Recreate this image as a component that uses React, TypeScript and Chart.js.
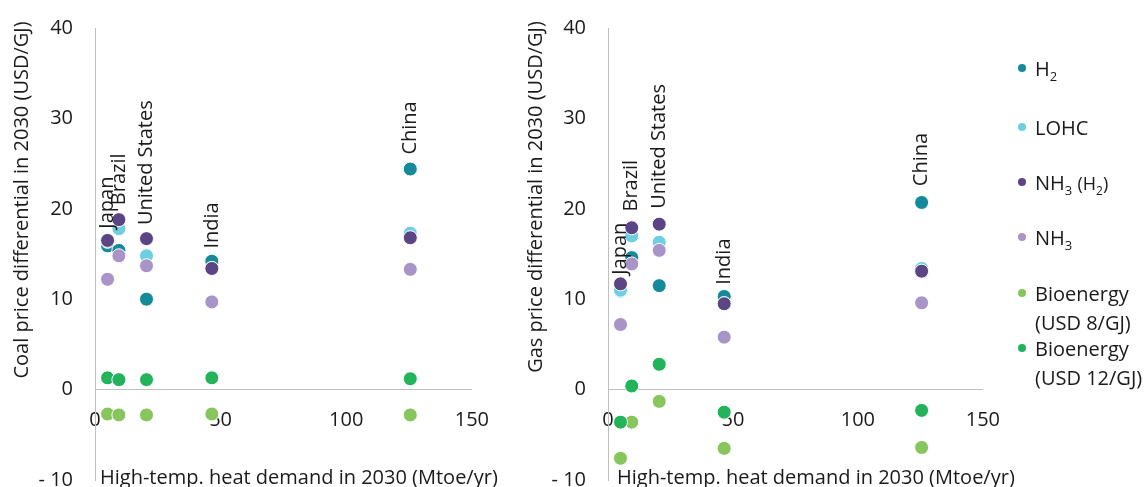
import React, { useEffect, useRef } from "react";
import { Chart, registerables } from "chart.js";
Chart.register(...registerables);

const FONT = "'Open Sans', 'Noto Sans', sans-serif";
const FS = 20;
const TEXT = "#1a1a1a";
const AXIS = "#bfbfbf";
const CANVAS_H = 520;
const CANVAS_TOP = -6;

// ---- data ----
const countries = ["Japan", "Brazil", "United States", "India", "China"];
const heatDemand = [5, 9.5, 20.5, 46.5, 125.5];

const coalH2 = [15.9, 15.4, 10.0, 14.2, 24.4];
const coalLOHC = [16.4, 17.8, 14.8, 13.4, 17.3];
const coalNH3H2 = [16.5, 18.8, 16.7, 13.4, 16.8];
const coalNH3 = [12.2, 14.8, 13.7, 9.7, 13.3];
const coalBio8 = [-2.7, -2.8, -2.8, -2.7, -2.8];
const coalBio12 = [1.3, 1.1, 1.1, 1.3, 1.2];
const coalLabelAt = [17.8, 20.4, 18.2, 15.6, 26.0];

const gasH2 = [10.9, 14.6, 11.5, 10.3, 20.7];
const gasLOHC = [11.0, 17.0, 16.3, 9.5, 13.4];
const gasNH3H2 = [11.7, 17.9, 18.3, 9.5, 13.1];
const gasNH3 = [7.2, 13.9, 15.4, 5.8, 9.6];
const gasBio8 = [-7.6, -3.6, -1.3, -6.5, -6.4];
const gasBio12 = [-3.6, 0.4, 2.8, -2.5, -2.3];
const gasLabelAt = [12.7, 19.7, 20.0, 11.6, 22.5];

const seriesNames = ["H2", "LOHC", "NH3 (H2)", "NH3", "Bioenergy (USD 8/GJ)", "Bioenergy (USD 12/GJ)"];
const seriesColors = ["#148a9b", "#6dcfdf", "#5b4585", "#a894c7", "#86c65c", "#22b35b"];

const xTicks = [0, 50, 100, 150];
const yTicks = [-10, 0, 10, 20, 30, 40];
const xTitle = "High-temp. heat demand in 2030 (Mtoe/yr)";

const annotPlugin = {
  id: "annot",
  afterDatasetsDraw(chart: any, _args: any, opts: any) {
    const { ctx } = chart;
    const x = chart.scales.x;
    const y = chart.scales.y;
    ctx.save();
    ctx.fillStyle = TEXT;
    ctx.font = `${FS}px ${FONT}`;
    countries.forEach((c, i) => {
      const px = x.getPixelForValue(heatDemand[i]);
      const py = y.getPixelForValue(opts.anchors[i]);
      ctx.save();
      ctx.translate(px, py);
      ctx.rotate(-Math.PI / 2);
      ctx.textAlign = "left";
      ctx.textBaseline = "middle";
      ctx.fillText(c, 0, 0);
      ctx.restore();
    });
    // y title
    ctx.save();
    ctx.translate(opts.yTitleX, opts.yTitleY);
    ctx.rotate(-Math.PI / 2);
    ctx.textAlign = "center";
    ctx.textBaseline = "middle";
    ctx.fillText(opts.yTitle, 0, 0);
    ctx.restore();
    // x title
    ctx.textAlign = "left";
    ctx.textBaseline = "alphabetic";
    ctx.fillText(xTitle, opts.xTitleX, opts.xTitleY);
    ctx.restore();
  },
};

type Geom = {
  yAxisWidth: number;
  padRight: number;
  padTop: number;
  padBottom: number;
  yTitleX: number;
  yTitleY: number;
  xTitleX: number;
  xTitleY: number;
};

function ScatterPanel(props: {
  left: number;
  width: number;
  series: number[][];
  anchors: number[];
  yTitle: string;
  geom: Geom;
}) {
  const ref = useRef<HTMLCanvasElement>(null);
  useEffect(() => {
    const g = props.geom;
    const chart = new Chart(ref.current!, {
      type: "scatter",
      data: {
        datasets: props.series.map((vals, si) => ({
          label: seriesNames[si],
          data: vals.map((v, i) => ({ x: heatDemand[i], y: v })),
          backgroundColor: seriesColors[si],
          borderColor: "#ffffff",
          borderWidth: 1,
          pointRadius: 7,
          pointHoverRadius: 7,
          order: props.series.length - si,
        })),
      },
      options: {
        animation: false,
        responsive: false,
        maintainAspectRatio: false,
        layout: { padding: { top: g.padTop, bottom: g.padBottom, right: g.padRight, left: 0 } },
        plugins: {
          legend: { display: false },
          tooltip: { enabled: false },
          annot: {
            anchors: props.anchors,
            yTitle: props.yTitle,
            yTitleX: g.yTitleX,
            yTitleY: g.yTitleY,
            xTitleX: g.xTitleX,
            xTitleY: g.xTitleY,
          },
        } as any,
        scales: {
          x: {
            type: "linear",
            min: 0,
            max: 150,
            position: { y: 0 } as any,
            afterBuildTicks: (s: any) => {
              s.ticks = xTicks.map((v) => ({ value: v }));
            },
            ticks: { padding: 19, color: TEXT, font: { family: FONT, size: FS }, maxRotation: 0 },
            grid: { display: false, drawTicks: false },
            border: { display: true, color: AXIS, width: 1 },
          },
          y: {
            type: "linear",
            min: -10,
            max: 40,
            afterBuildTicks: (s: any) => {
              s.ticks = yTicks.map((v) => ({ value: v }));
            },
            afterFit: (s: any) => {
              s.width = g.yAxisWidth;
            },
            ticks: {
              padding: 22,
              color: TEXT,
              font: { family: FONT, size: FS },
              callback: (v: any) => (v < 0 ? `- ${Math.abs(v)}` : `${v}`),
            },
            grid: { display: false, drawTicks: false },
            border: { display: true, color: AXIS, width: 1 },
          },
        },
      },
      plugins: [annotPlugin],
    });
    return () => chart.destroy();
  }, []);
  return (
    <canvas
      ref={ref}
      width={props.width}
      height={CANVAS_H}
      style={{ position: "absolute", left: props.left, top: CANVAS_TOP, width: props.width, height: CANVAS_H }}
    />
  );
}

const subStyle = { fontSize: 13, verticalAlign: -5 } as const;

const legendItems: { key: number; y: number; content: React.ReactNode }[] = [
  { key: 0, y: 68, content: <span>H<sub style={subStyle}>2</sub></span> },
  { key: 1, y: 127, content: <span>LOHC</span> },
  {
    key: 2,
    y: 182,
    content: (
      <span>
        NH<sub style={subStyle}>3</sub>{" "}
        <span style={{ fontSize: 18 }}>
          (H<sub style={{ fontSize: 12, verticalAlign: -5 }}>2</sub>)
        </span>
      </span>
    ),
  },
  { key: 3, y: 237, content: <span>NH<sub style={subStyle}>3</sub></span> },
  { key: 4, y: 293, content: <span>Bioenergy<br />(USD 8/GJ)</span> },
  { key: 5, y: 348, content: <span>Bioenergy<br />(USD 12/GJ)</span> },
];

export default function App() {
  return (
    <div style={{ position: "fixed", left: 0, top: 0, width: 1146, height: 487, background: "#fff", overflow: "hidden" }}>
      <ScatterPanel
        left={0}
        width={508}
        series={[coalH2, coalLOHC, coalNH3H2, coalNH3, coalBio8, coalBio12]}
        anchors={coalLabelAt}
        yTitle="Coal price differential in 2030 (USD/GJ)"
        geom={{ yAxisWidth: 95, padRight: 30, padTop: 24, padBottom: 17, yTitleX: 22, yTitleY: 206, xTitleX: 100, xTitleY: 490 }}
      />
      <ScatterPanel
        left={510}
        width={509}
        series={[gasH2, gasLOHC, gasNH3H2, gasNH3, gasBio8, gasBio12]}
        anchors={gasLabelAt}
        yTitle="Gas price differential in 2030 (USD/GJ)"
        geom={{ yAxisWidth: 98, padRight: 23, padTop: 24, padBottom: 21, yTitleX: 26, yTitleY: 203, xTitleX: 107, xTitleY: 490 }}
      />
      {legendItems.map((it) => (
        <div
          key={it.key}
          style={{
            position: "absolute",
            left: 1016,
            top: it.y - 14.5,
            fontFamily: FONT,
            fontSize: FS,
            lineHeight: "29px",
            color: TEXT,
            whiteSpace: "nowrap",
          }}
        >
          <span
            style={{
              position: "absolute",
              left: 2,
              top: 10.5,
              width: 8,
              height: 8,
              borderRadius: "50%",
              background: seriesColors[it.key],
            }}
          />
          <div style={{ marginLeft: 19 }}>{it.content}</div>
        </div>
      ))}
    </div>
  );
}
